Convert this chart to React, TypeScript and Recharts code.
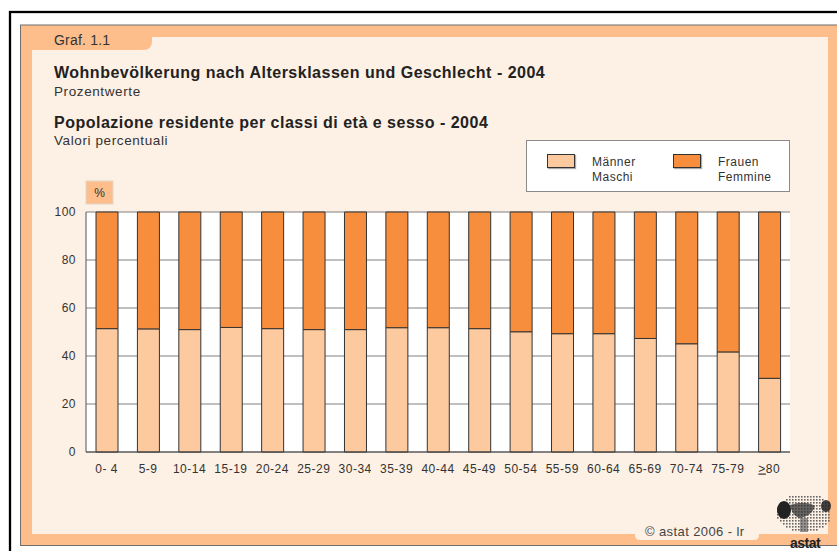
import React from 'react';
import { BarChart, Bar, XAxis, YAxis, CartesianGrid, Legend } from 'recharts';

const categories = ['0- 4', '5-9', '10-14', '15-19', '20-24', '25-29', '30-34', '35-39', '40-44', '45-49', '50-54', '55-59', '60-64', '65-69', '70-74', '75-79', '≥80'];
const maenner = [51.4, 51.3, 51.0, 51.9, 51.4, 51.0, 51.0, 51.8, 51.8, 51.4, 50.1, 49.3, 49.3, 47.3, 45.1, 41.7, 30.7];
const frauen = [48.6, 48.7, 49.0, 48.1, 48.6, 49.0, 49.0, 48.2, 48.2, 48.6, 49.9, 50.7, 50.7, 52.7, 54.9, 58.3, 69.3];
const yTicks = [0, 20, 40, 60, 80, 100];
const seriesKeys = ['m', 'f'];
const seriesNames = ['Männer / Maschi', 'Frauen / Femmine'];

const data = categories.map((c, i) => ({ age: c, m: maenner[i], f: frauen[i] }));

const FONT = '"Liberation Sans", Arial, Helvetica, sans-serif';
const C_PANEL = '#FDBE8B';
const C_CREAM = '#FDF0E4';
const C_MALE = '#FDCA9F';
const C_FEMALE = '#F68E3D';

const XTick = (props: any) => {
  const { x, y, payload } = props;
  const v: string = payload.value;
  const common = { x, y, dy: '0.71em', textAnchor: 'middle' as const, fill: '#333', fontSize: 12, letterSpacing: 0.5, fontFamily: FONT };
  if (v.startsWith('≥')) {
    return (
      <text {...common}>
        <tspan textDecoration="underline">&gt;</tspan>
        {v.slice(1)}
      </text>
    );
  }
  return <text {...common}>{v}</text>;
};

const LegendBox = (props: any) => {
  const payload = [...(props.payload || [])].sort(
    (a: any, b: any) => seriesKeys.indexOf(a.dataKey) - seriesKeys.indexOf(b.dataKey)
  );
  return (
    <div style={{ width: 264, height: 52, boxSizing: 'border-box', background: '#fff', border: '1px solid #8a8a8a', position: 'relative', fontFamily: FONT, fontSize: 12, letterSpacing: 0.5, color: '#333' }}>
      {payload.map((p: any, i: number) => {
        const [l1, l2] = String(p.value).split(' / ');
        const left = i === 0 ? 20 : 146;
        return (
          <React.Fragment key={i}>
            <div style={{ position: 'absolute', left, top: 13, width: 28, height: 14, boxSizing: 'border-box', background: p.color, border: '1px solid #333', boxShadow: '1px 1px 1px #aaa' }} />
            <div style={{ position: 'absolute', left: left + 45, top: 14, lineHeight: '15px' }}>
              {l1}<br />{l2}
            </div>
          </React.Fragment>
        );
      })}
    </div>
  );
};

export default function App() {
  const creamPath = 'M32,50 L143,50 Q152,50 152,41 L152,37 L828,37 L828,534 L759,534 L759,535 Q759,540 754,540 L640,540 Q635,540 635,535 L635,534 L32,534 Z';
  const dots: JSX.Element[] = [];
  for (let yy = 496; yy < 534; yy += 3) {
    for (let xx = 777; xx < 831; xx += 3) {
      const dx = (xx - 804) / 27;
      const dy = (yy - 512) / 18;
      if (dx * dx + dy * dy < 1.1) {
        dots.push(<rect key={xx + '-' + yy} x={xx} y={yy} width={1.6} height={1.6} fill="#666" />);
      }
    }
  }
  return (
    <div style={{ position: 'absolute', left: 0, top: 0, width: 837, height: 551, overflow: 'hidden', background: '#fff', fontFamily: FONT }}>
      <svg width={837} height={551} style={{ position: 'absolute', left: 0, top: 0 }}>
        <rect x={10} y={12} width={900} height={600} fill="#fff" stroke="#000" strokeWidth={2.3} />
        <rect x={20.5} y={25} width={900} height={520.5} fill={C_PANEL} stroke="#6f6f6f" strokeWidth={1} />
        <path d={creamPath} fill={C_CREAM} />
        <text x={54} y={45} fontSize={14} fill="#333" letterSpacing={0.2}>Graf. 1.1</text>
        <text x={54} y={77.5} fontSize={16} fontWeight="bold" fill="#222" letterSpacing={0.5}>Wohnbevölkerung nach Altersklassen und Geschlecht - 2004</text>
        <text x={54} y={95.5} fontSize={13.5} fill="#333" letterSpacing={0.6}>Prozentwerte</text>
        <text x={54} y={127.5} fontSize={16} fontWeight="bold" fill="#222" letterSpacing={0.5}>Popolazione residente per classi di età e sesso - 2004</text>
        <text x={54} y={145} fontSize={13.5} fill="#333" letterSpacing={0.6}>Valori percentuali</text>
        <rect x={86} y={181} width={27} height={23} fill={C_PANEL} stroke="#e2d6cc" strokeWidth={1} />
        <text x={99.5} y={197} fontSize={12} fill="#333" textAnchor="middle">%</text>
        <text x={645} y={536} fontSize={13} fill="#444" letterSpacing={0.4}>© astat 2006 - lr</text>
        <g>
          {dots}
          <ellipse cx={784} cy={510} rx={7} ry={9} fill="#222" />
          <path d="M790,505 Q805,500 815,506 Q812,516 800,518 Q792,516 790,505 Z" fill="#333" opacity={0.75} />
          <ellipse cx={826} cy={506} rx={5} ry={6} fill="#222" opacity={0.85} />
          <rect x={800} y={518} width={8} height={14} fill="#555" opacity={0.6} />
          <text x={805} y={548} fontSize={14} fontWeight="bold" fill="#222" textAnchor="middle" letterSpacing={-0.5}>astat</text>
        </g>
      </svg>
      <div style={{ position: 'absolute', left: 0, top: 0 }}>
        <BarChart width={837} height={551} data={data} margin={{ top: 212, right: 47, bottom: 69, left: 36 }} barSize={22} style={{ fontFamily: FONT }}>
          <CartesianGrid vertical={false} fill="#fff" stroke="#808080" strokeWidth={1} />
          <XAxis dataKey="age" interval={0} tickLine={false} axisLine={{ stroke: '#444' }} height={30} tickMargin={6} tick={(p: any) => <XTick {...p} />} />
          <YAxis domain={[0, 100]} ticks={yTicks} width={50} tickLine={false} axisLine={{ stroke: '#555' }} tickMargin={4} tick={{ fill: '#333', fontSize: 12, letterSpacing: 0.5, fontFamily: FONT }} />
          <YAxis yAxisId="r" orientation="right" width={0} tick={false} tickLine={false} axisLine={{ stroke: '#808080' }} />
          <Bar dataKey={seriesKeys[0]} stackId="a" fill={C_MALE} stroke="#333" strokeWidth={1} name={seriesNames[0]} isAnimationActive={false} />
          <Bar dataKey={seriesKeys[1]} stackId="a" fill={C_FEMALE} stroke="#333" strokeWidth={1} name={seriesNames[1]} isAnimationActive={false} />
          <Legend layout="horizontal" verticalAlign="middle" align="center" content={(p: any) => <LegendBox {...p} />} wrapperStyle={{ position: 'absolute', left: 526, top: 140, width: 264, height: 52 }} />
        </BarChart>
      </div>
    </div>
  );
}
